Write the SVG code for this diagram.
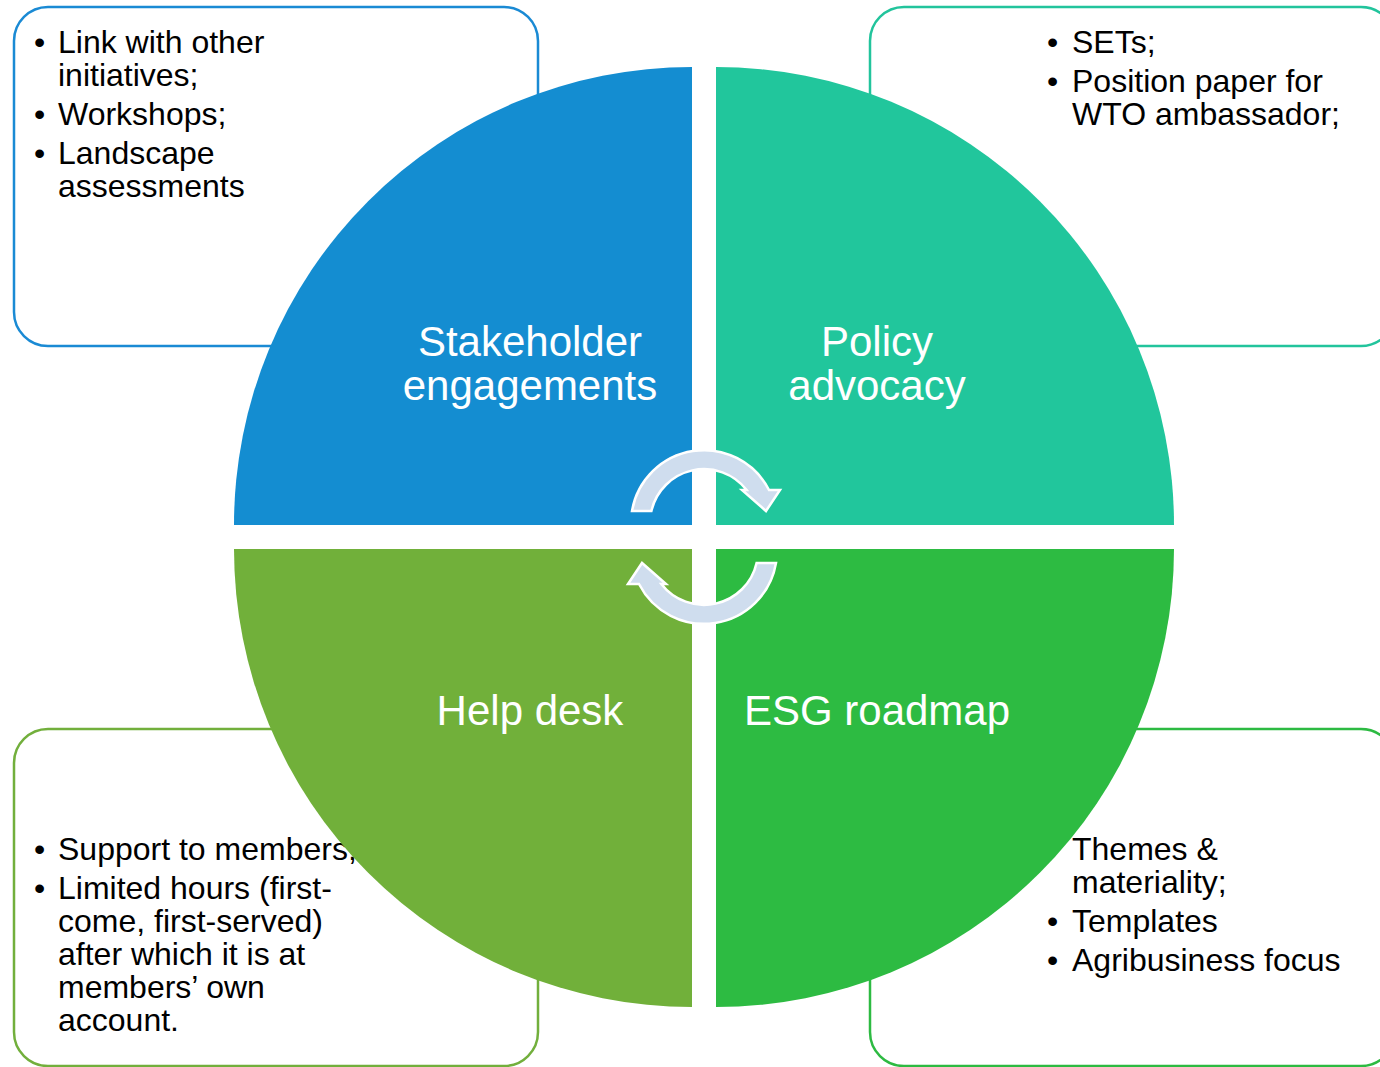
<svg xmlns="http://www.w3.org/2000/svg" width="1380" height="1067" viewBox="0 0 1380 1067">
<style>
.box{fill:#fff;stroke-width:2.5}
.bt{font-family:"Liberation Sans",Arial,sans-serif;font-size:32px;fill:#000}
.lbl{font-family:"Liberation Sans",Arial,sans-serif;font-size:42px;fill:#fff;text-anchor:middle}
.arr{fill:#CFDDEE;stroke:#fff;stroke-width:2.5;stroke-linejoin:miter}
</style>
<rect width="1380" height="1067" fill="#fff"/>
<g id="box-stakeholder">
<rect class="box" x="14" y="7" width="524" height="339" rx="34" stroke="#1A8AD4"/>
<text class="bt"><tspan x="34" y="53">•</tspan><tspan x="58" y="53">Link with other</tspan><tspan x="58" y="86">initiatives;</tspan><tspan x="34" y="125">•</tspan><tspan x="58" y="125">Workshops;</tspan><tspan x="34" y="164">•</tspan><tspan x="58" y="164">Landscape</tspan><tspan x="58" y="197">assessments</tspan></text>
</g>
<g id="box-policy">
<rect class="box" x="870" y="7" width="525" height="339" rx="34" stroke="#22C49C"/>
<text class="bt"><tspan x="1047" y="53">•</tspan><tspan x="1072" y="53">SETs;</tspan><tspan x="1047" y="92">•</tspan><tspan x="1072" y="92">Position paper for</tspan><tspan x="1072" y="125">WTO ambassador;</tspan></text>
</g>
<g id="box-helpdesk">
<rect class="box" x="14" y="729" width="524" height="337" rx="34" stroke="#72AF3C"/>
<text class="bt"><tspan x="34" y="860">•</tspan><tspan x="58" y="860">Support to members;</tspan><tspan x="34" y="899">•</tspan><tspan x="58" y="899">Limited hours (first-</tspan><tspan x="58" y="932">come, first-served)</tspan><tspan x="58" y="965">after which it is at</tspan><tspan x="58" y="998">members’ own</tspan><tspan x="58" y="1031">account.</tspan></text>
</g>
<g id="box-esg">
<rect class="box" x="870" y="729" width="525" height="337" rx="34" stroke="#2DBA42"/>
<text class="bt"><tspan x="1047" y="860">•</tspan><tspan x="1072" y="860">Themes &amp;</tspan><tspan x="1072" y="893">materiality;</tspan><tspan x="1047" y="932">•</tspan><tspan x="1072" y="932">Templates</tspan><tspan x="1047" y="971">•</tspan><tspan x="1072" y="971">Agribusiness focus</tspan></text>
</g>
<g id="q-stakeholder">
<path d="M692,525 L234,525 A458,458 0 0 1 692,67 Z" fill="#148DD1"/>
<text class="lbl"><tspan x="530" y="356">Stakeholder</tspan><tspan x="530" y="400">engagements</tspan></text>
</g>
<g id="q-policy">
<path d="M716,525 L716,67 A458,458 0 0 1 1174,525 Z" fill="#21C69C"/>
<text class="lbl"><tspan x="877" y="356">Policy</tspan><tspan x="877" y="400">advocacy</tspan></text>
</g>
<g id="q-esg">
<path d="M716,549 L1174,549 A458,458 0 0 1 716,1007 Z" fill="#2DBB42"/>
<text class="lbl" x="877" y="725">ESG roadmap</text>
</g>
<g id="q-helpdesk">
<path d="M692,549 L692,1007 A458,458 0 0 1 234,549 Z" fill="#71B03A"/>
<text class="lbl" x="530" y="725">Help desk</text>
</g>
<g id="connectors">
<path id="arrow-top" class="arr" d="M632,511 A73,73 0 0 1 769,490 L780,490 L766,511 L742,490 L746.7,490 A54,54 0 0 0 651.4,511 Z"/>
<path id="arrow-bottom" class="arr" d="M632,511 A73,73 0 0 1 769,490 L780,490 L766,511 L742,490 L746.7,490 A54,54 0 0 0 651.4,511 Z" transform="rotate(180 704 537)"/>
</g>
</svg>
